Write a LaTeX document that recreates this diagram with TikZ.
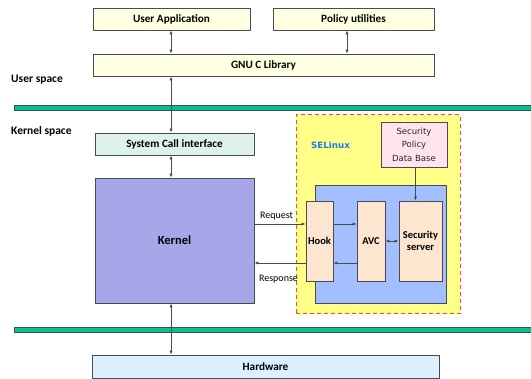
\documentclass[tikz,border=0pt]{standalone}
\usepackage{fontspec}
\setmainfont{Carlito}
\newfontfamily\tah{DejaVu Sans}
\usetikzlibrary{arrows.meta}
\definecolor{userfill}{HTML}{FFFFE1}
\definecolor{scifill}{HTML}{DDF2EA}
\definecolor{kernfill}{HTML}{A6A6E8}
\definecolor{hwfill}{HTML}{DCEFFF}
\definecolor{barfill}{HTML}{00C48E}
\definecolor{selfill}{HTML}{FFFF88}
\definecolor{selborder}{HTML}{FF4A3A}
\definecolor{bluefill}{HTML}{A4BFFF}
\definecolor{peach}{HTML}{FDE5D0}
\definecolor{pinkfill}{HTML}{FFE4F0}
\definecolor{edge}{HTML}{4A4A55}
\definecolor{selblue}{HTML}{1E7BF0}
\tikzset{
  box/.style={draw=edge, line width=0.8pt, inner sep=0pt, font=\bfseries\fontsize{11.2}{13}\selectfont},
  arr/.style={draw=edge, line width=0.7pt, -{Latex[length=4pt,width=3.2pt]}},
  darr/.style={draw=edge, line width=0.7pt, {Latex[length=4pt,width=3.2pt]}-{Latex[length=4pt,width=3.2pt]}},
  bar/.style={draw=edge, fill=barfill, line width=0.6pt},
  lbl/.style={font=\bfseries\fontsize{11.5}{13}\selectfont, inner sep=0pt},
  small/.style={font=\fontsize{10}{12}\selectfont, inner sep=0pt}
}
\begin{document}
\begin{tikzpicture}[x=1pt,y=-1pt]
\useasboundingbox[fill=white] (0,0) rectangle (531,379);
% bars
\path[bar] (14,105) rectangle (533,110);
\path[bar] (14,327) rectangle (533,332);
% SELinux region
\node[draw=selborder, dashed, dash pattern=on 4pt off 3pt, line width=1pt, fill=selfill, minimum width=164pt, minimum height=199pt, inner sep=0pt] (sel) at (378,214.5) {};
\node[box, fill=bluefill, minimum width=131pt, minimum height=118pt] (blue) at (380.5,244) {};
\node[box, fill=pinkfill, minimum width=66pt, minimum height=45pt, font=\tah\fontsize{8.5}{13.5}\selectfont, align=center, text=black!85] (spdb) at (414,144.5) {Security\\Policy\\Data Base};
\node[font=\tah\bfseries\fontsize{8.7}{10}\selectfont, text=selblue, anchor=west, inner sep=0pt] (sellbl) at (311,145) {SELinux};
\node[box, fill=peach, minimum width=27pt, minimum height=80pt, font=\bfseries\fontsize{10.5}{12}\selectfont] (hook) at (319.5,241) {Hook};
\node[box, fill=peach, minimum width=28pt, minimum height=80pt, font=\bfseries\fontsize{10.5}{12}\selectfont] (avc) at (371,241) {AVC};
\node[box, fill=peach, minimum width=43pt, minimum height=80pt, font=\bfseries\fontsize{10.5}{12}\selectfont, align=center] (ss) at (420.5,241) {Security\\server};
% user boxes
\node[box, fill=userfill, minimum width=157pt, minimum height=22pt] (ua) at (171.5,19) {User Application};
\node[box, fill=userfill, minimum width=161pt, minimum height=22pt] (pu) at (353.5,19) {Policy utilities};
\node[box, fill=userfill, minimum width=341pt, minimum height=22pt] (gnu) at (263.5,65) {GNU C Library};
\node[box, fill=scifill, minimum width=159pt, minimum height=22pt] (sci) at (174.5,144) {System Call interface};
\node[box, fill=kernfill, minimum width=159pt, minimum height=125pt, font=\bfseries\fontsize{12.5}{14}\selectfont] (kernel) at (174.5,240.5) {Kernel};
\node[box, fill=hwfill, minimum width=347pt, minimum height=23pt] (hw) at (265.5,366.5) {Hardware};
% labels
\node[lbl, anchor=west] (us) at (11,80) {User space};
\node[lbl, anchor=west] (ks) at (11,131) {Kernel space};
\node[small] (req) at (276.5,216) {Request};
\node[small] (resp) at (278.5,279) {Response};
% helper coordinates
\path ([xshift=-0.5pt]ua.south) coordinate (a1);
\path ([xshift=-6.5pt]pu.south) coordinate (a2);
\path ([xshift=-3.5pt]sci.north) coordinate (a3);
\path ([xshift=-3.5pt]kernel.south) coordinate (a4);
\path ([yshift=17pt]hook.west) coordinate (rq);
\path ([yshift=-22pt]hook.west) coordinate (rs);
\path ([yshift=17pt]hook.east) coordinate (h1);
\path ([yshift=-22pt]hook.east) coordinate (h2);
\path ([xshift=1.5pt]spdb.south) coordinate (s1);
% connectors
\draw[darr] (a1) -- (a1 |- gnu.north);
\draw[darr] (a2) -- (a2 |- gnu.north);
\draw[darr] (a3 |- gnu.south) -- (a3);
\draw[darr] (a3 |- sci.south) -- (a3 |- kernel.north);
\draw[darr] (a4) -- (a4 |- hw.north);
\draw[arr] (rq -| kernel.east) -- (rq);
\draw[arr] (rs) -- (rs -| kernel.east);
\draw[arr] (h1) -- (h1 -| avc.west);
\draw[arr] (h2 -| avc.west) -- (h2);
\draw[darr] (avc.east) -- (ss.west);
\draw[arr] (s1) -- (s1 |- ss.north);
\end{tikzpicture}
\end{document}
